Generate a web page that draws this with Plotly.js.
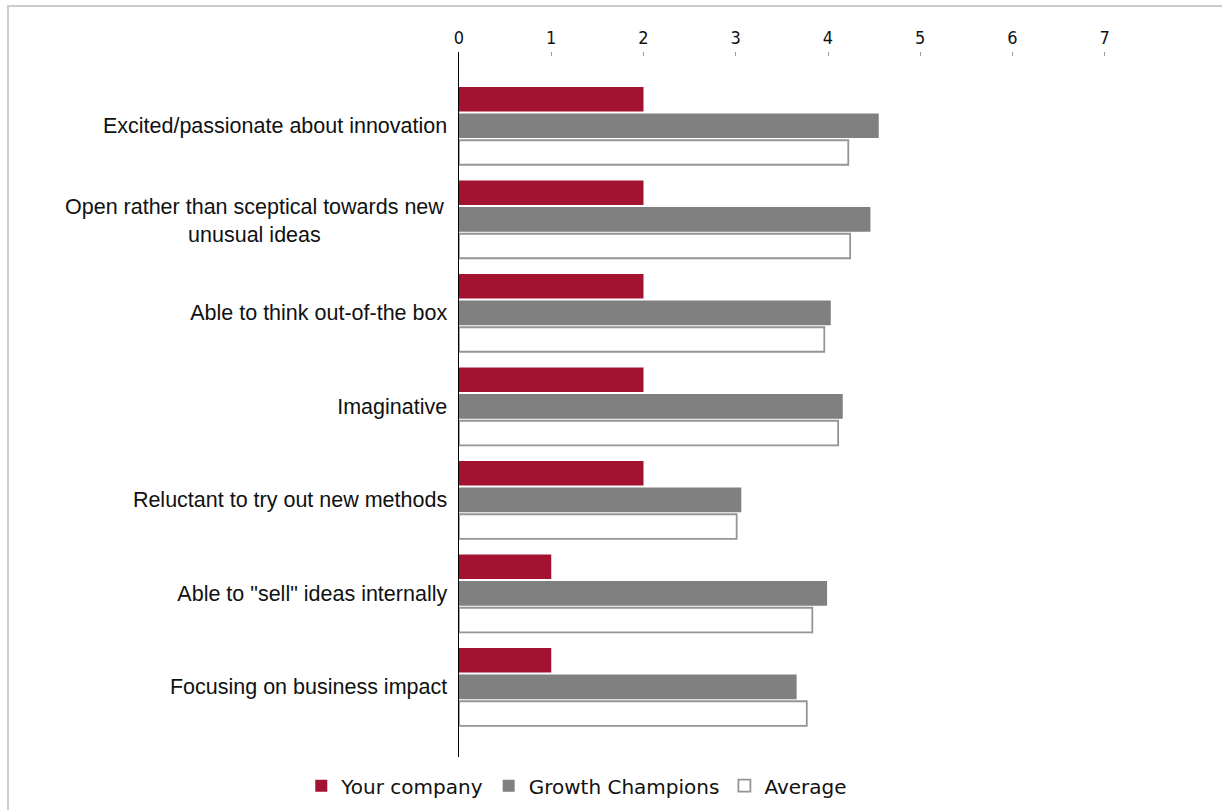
<!DOCTYPE html>
<html>
<head>
<meta charset="utf-8">
<script src="https://cdn.plot.ly/plotly-3.0.1.min.js"></script>
<style>
  html, body { margin: 0; padding: 0; background: #fff; }
  #wrap { position: relative; width: 1222px; height: 810px; }
  #chart { width: 1222px; height: 810px; }
  #frame { position: absolute; left: 7px; top: 5px; right: 0; bottom: 0;
           border-left: 2px solid #cccccc; border-top: 2px solid #cccccc;
           pointer-events: none; }
</style>
</head>
<body>
<div id="wrap">
  <div id="chart"></div>
  <div id="frame"></div>
</div>
<script>
const categories = [
  "Excited/passionate about innovation",
  "Open rather than sceptical towards new unusual ideas",
  "Able to think out-of-the box",
  "Imaginative",
  "Reluctant to try out new methods",
  "Able to \"sell\" ideas internally",
  "Focusing on business impact"
];
// tick labels; the wrapped one is drawn as a centred two-line label below
const tickLabels = [
  "Excited/passionate about innovation",
  "",
  "Able to think out-of-the box",
  "Imaginative",
  "Reluctant to try out new methods",
  "Able to \"sell\" ideas internally",
  "Focusing on business impact"
];
const wrappedLabel = "Open rather than sceptical towards new<br>unusual ideas";
const yourCompany     = [2, 2, 2, 2, 2, 1, 1];
const growthChampions = [4.55, 4.46, 4.03, 4.16, 3.06, 3.99, 3.66];
const average         = [4.22, 4.24, 3.96, 4.11, 3.01, 3.83, 3.77];
const xTicks = [0, 1, 2, 3, 4, 5, 6, 7];

const traces = [
  { type: 'bar', orientation: 'h', name: 'Your company', y: categories, x: yourCompany,
    marker: { color: '#a31230', line: { width: 0 } } },
  { type: 'bar', orientation: 'h', name: 'Growth Champions', y: categories, x: growthChampions,
    marker: { color: '#808080', line: { width: 0 } } },
  { type: 'bar', orientation: 'h', name: 'Average', y: categories, x: average,
    marker: { color: '#ffffff', line: { color: '#959595', width: 1.8 } } }
];

const labelFont = { family: 'Liberation Sans', size: 21.5, color: '#111' };
const annotations = [
  { xref: 'paper', yref: 'y', x: 0, xshift: -13, y: categories[1], yshift: -2,
    text: wrappedLabel, showarrow: false, xanchor: 'right', yanchor: 'middle',
    align: 'center', font: labelFont }
];

const layout = {
  width: 1222, height: 810,
  paper_bgcolor: '#ffffff', plot_bgcolor: '#ffffff',
  margin: { l: 459, r: 25, t: 52, b: 53 },
  barmode: 'group', bargap: 0.145, bargroupgap: 0.08,
  showlegend: true,
  legend: { orientation: 'h', x: 0.472, xref: 'container', xanchor: 'center',
            y: 0.03, yref: 'container', yanchor: 'middle',
            font: { family: 'DejaVu Sans', size: 20, color: '#111' },
            itemwidth: 30, traceorder: 'normal' },
  annotations: annotations,
  xaxis: { side: 'top', range: [0, 8], tickvals: xTicks, ticktext: xTicks.map(String),
           showgrid: false, zeroline: false, showline: false,
           ticks: 'inside', ticklen: 4, tickcolor: '#999999', tickwidth: 1,
           ticklabelstandoff: 3,
           tickfont: { family: 'DejaVu Sans Condensed, DejaVu Sans', size: 18, color: '#111' },
           fixedrange: true },
  yaxis: { type: 'category', range: [6.75, -0.79], showgrid: false, zeroline: false,
           tickmode: 'array', tickvals: categories, ticktext: tickLabels,
           showline: true, linecolor: '#000000', linewidth: 1.5, ticks: '',
           tickfont: labelFont, ticklabelstandoff: 6, fixedrange: true }
};

Plotly.newPlot('chart', traces, layout, { displayModeBar: false, staticPlot: true });
</script>
</body>
</html>
